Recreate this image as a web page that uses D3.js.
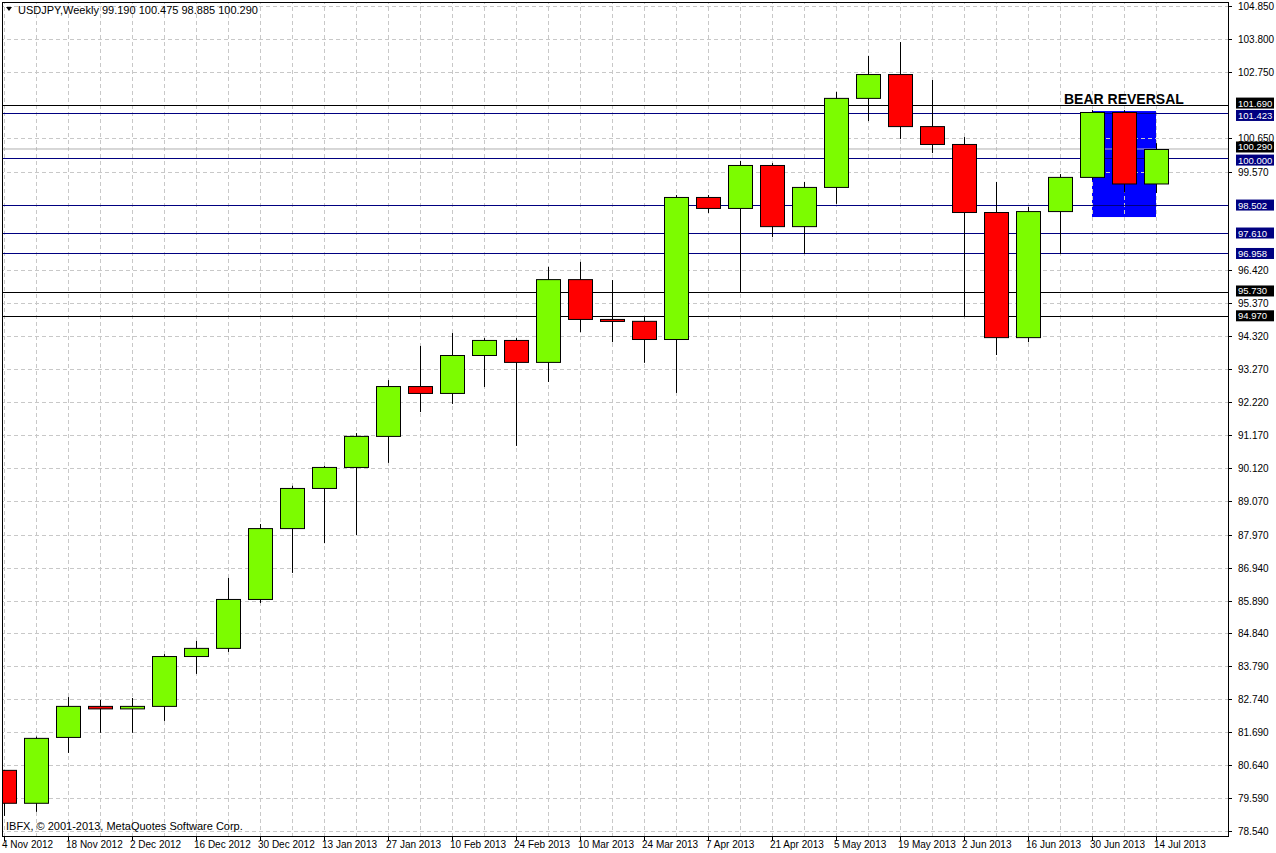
<!DOCTYPE html>
<html><head><meta charset="utf-8">
<script src="https://cdn.jsdelivr.net/npm/d3@7"></script>
<style>body{margin:0;background:#fff}svg{display:block}</style>
</head><body><svg id="c" width="1276" height="853"></svg>
<script>
const dates=["4 Nov 2012","11 Nov 2012","18 Nov 2012","25 Nov 2012","2 Dec 2012","9 Dec 2012","16 Dec 2012","23 Dec 2012","30 Dec 2012","6 Jan 2013","13 Jan 2013","20 Jan 2013","27 Jan 2013","3 Feb 2013","10 Feb 2013","17 Feb 2013","24 Feb 2013","3 Mar 2013","10 Mar 2013","17 Mar 2013","24 Mar 2013","31 Mar 2013","7 Apr 2013","14 Apr 2013","21 Apr 2013","28 Apr 2013","5 May 2013","12 May 2013","19 May 2013","26 May 2013","2 Jun 2013","9 Jun 2013","16 Jun 2013","23 Jun 2013","30 Jun 2013","7 Jul 2013","14 Jul 2013"];
const highs =[80.49,81.55,82.81,82.72,82.78,84.18,84.60,86.61,88.33,89.55,90.18,91.23,92.92,94.01,94.42,94.26,94.26,96.53,96.69,96.11,94.93,98.82,98.82,99.91,99.84,99.24,102.11,103.26,103.70,102.49,100.67,99.24,98.44,99.49,101.53,101.53,100.475];
const lows  =[79.02,79.15,81.03,81.67,81.67,82.05,83.55,84.25,85.81,86.77,87.72,87.98,90.28,91.90,92.16,92.70,90.82,92.86,94.45,94.13,93.47,92.51,98.25,95.73,97.48,96.94,98.54,101.18,100.61,100.16,94.93,93.72,94.13,96.94,99.30,98.90,98.885];
const opn   =[80.49,79.44,81.54,82.53,82.45,82.53,84.12,84.38,85.94,88.20,89.48,90.15,91.14,92.73,92.51,93.72,94.20,93.50,96.14,94.87,94.81,94.23,98.76,98.41,99.78,97.83,99.08,101.92,102.68,101.02,100.45,98.28,94.29,98.31,99.40,101.47,99.19];
const closes=[79.44,81.51,82.53,82.45,82.53,84.12,84.38,85.94,88.20,89.48,90.15,91.14,92.73,92.51,93.72,94.20,93.50,96.14,94.87,94.81,94.23,98.76,98.41,99.78,97.83,99.08,101.92,102.68,101.02,100.45,98.28,94.29,98.31,99.40,101.47,99.19,100.29];
const tickVals=[104.850,103.800,102.750,100.650,99.570,96.420,95.370,94.320,93.270,92.220,91.170,90.120,89.070,87.970,86.940,85.890,84.840,83.790,82.740,81.690,80.640,79.590,78.540];
const levels=[{v:101.690,c:"#000",dy:-2},{v:101.423,c:"#000080",dy:2},{v:100.000,c:"#000080",dy:2},{v:98.502,c:"#000080",dy:0},{v:97.610,c:"#000080",dy:0},{v:96.958,c:"#000080",dy:0},{v:95.730,c:"#000",dy:-1},{v:94.970,c:"#000",dy:0}];
const bidPrice=100.290;
const boxRange={i0:34,i1:36,top:101.50,bottom:98.12};

const svg=d3.select("#c");
const W=1228,B=836;
const y=d3.scaleLinear().domain([78.54,104.85]).range([831,6]);
const x=d3.scaleLinear().domain([0,36]).range([4,1156]);
const font="Liberation Sans, Arial, sans-serif";
svg.append("defs").append("clipPath").attr("id","pc").append("rect").attr("x",2).attr("y",2).attr("width",W-2).attr("height",B-2);
const g=svg.append("g").attr("clip-path","url(#pc)");
g.append("rect").attr("x",x(boxRange.i0)).attr("y",y(boxRange.top)).attr("width",x(boxRange.i1)-x(boxRange.i0)).attr("height",y(boxRange.bottom)-y(boxRange.top)).attr("fill","#0000ff");
const gridCol="#c8c8c8";
g.selectAll(".hg").data(tickVals).join("line").attr("x1",0).attr("x2",W).attr("y1",d=>Math.round(y(d))+.5).attr("y2",d=>Math.round(y(d))+.5).attr("stroke",gridCol).attr("stroke-dasharray","4,3");
g.selectAll(".vg").data(d3.range(0,37)).join("line").attr("x1",d=>x(d)+.5).attr("x2",d=>x(d)+.5).attr("y1",0).attr("y2",B).attr("stroke",gridCol).attr("stroke-dasharray","4,3");
g.append("line").attr("x1",0).attr("x2",W).attr("y1",y(bidPrice)).attr("y2",y(bidPrice)).attr("stroke","#b0b0b0");
g.selectAll(".lv").data(levels).join("line").attr("x1",0).attr("x2",W).attr("y1",d=>Math.round(y(d.v))+.5).attr("y2",d=>Math.round(y(d.v))+.5).attr("stroke",d=>d.c);
const bw=24;
const idx=d3.range(dates.length);
g.selectAll(".wk").data(idx).join("line").attr("x1",i=>x(i)+.5).attr("x2",i=>x(i)+.5).attr("y1",i=>y(highs[i])).attr("y2",i=>y(lows[i])).attr("stroke","#000");
g.selectAll(".bd").data(idx).join("rect")
 .attr("x",i=>x(i)-bw/2+.5).attr("width",bw)
 .attr("y",i=>Math.min(y(opn[i]),y(closes[i]))+.5)
 .attr("height",i=>Math.max(2,Math.abs(y(opn[i])-y(closes[i]))))
 .attr("fill",i=>closes[i]>=opn[i]?"#7cfc00":"#ff0000").attr("stroke","#000");
g.append("text").attr("x",1064).attr("y",104).attr("font-family",font).attr("font-weight","bold").attr("font-size",14).text("BEAR REVERSAL");
svg.append("text").attr("x",18).attr("y",14).attr("font-family",font).attr("font-size",11).text("USDJPY,Weekly  99.190 100.475 98.885 100.290");
svg.append("path").attr("d","M6,7 L12,7 L9,11 Z").attr("fill","#000");
svg.append("text").attr("x",6).attr("y",830).attr("font-family",font).attr("font-size",11).text("IBFX, © 2001-2013, MetaQuotes Software Corp.");
svg.append("rect").attr("x",2.5).attr("y",2.5).attr("width",W-2).attr("height",B-2).attr("fill","none").attr("stroke","#000");
const ax=svg.append("g");
ax.selectAll("line").data(tickVals).join("line").attr("x1",W).attr("x2",W+4).attr("y1",d=>Math.round(y(d))+.5).attr("y2",d=>Math.round(y(d))+.5).attr("stroke","#000");
ax.selectAll("text").data(tickVals).join("text").attr("x",1238).attr("y",d=>y(d)+4).attr("font-family",font).attr("font-size",10).text(d=>d.toFixed(3));
const lab=svg.append("g");
const allLab=levels.concat([{v:bidPrice,c:"#000",dy:-2}]);
allLab.forEach(d=>{
  const cy=y(d.v)+d.dy;
  lab.append("rect").attr("x",1236).attr("y",cy-5.5).attr("width",38).attr("height",11).attr("fill",d.c);
  lab.append("text").attr("x",1238).attr("y",cy+3.5).attr("font-family",font).attr("font-size",9.5).attr("fill","#fff").text(d.v.toFixed(3));
});
const bi=idx.filter(i=>i%2===0);
svg.selectAll(".bt").data(bi).join("line").attr("x1",i=>x(i)+.5).attr("x2",i=>x(i)+.5).attr("y1",B).attr("y2",B+5).attr("stroke","#000");
svg.selectAll(".bl").data(bi).join("text").attr("x",i=>x(i)-2).attr("y",848).attr("font-family",font).attr("font-size",10).text(i=>dates[i]);
</script></body></html>
